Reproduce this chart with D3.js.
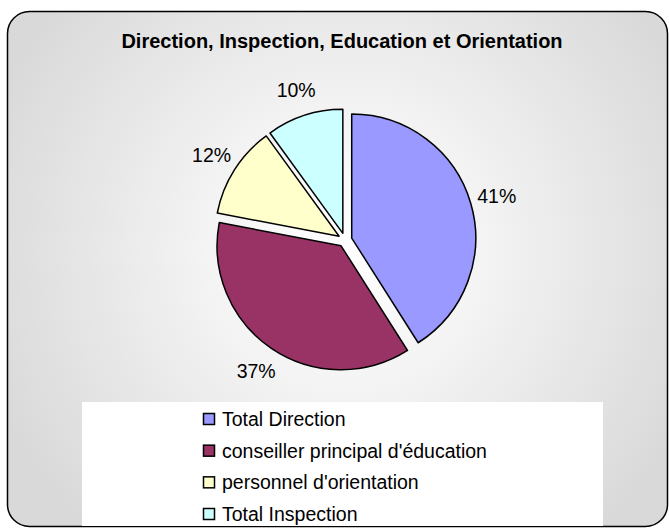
<!DOCTYPE html>
<html>
  <head>
    <meta charset="utf-8">
    <title>Direction, Inspection, Education et Orientation</title>
    <style>
      body { margin: 0; background: #fff; }
      svg { display: block; }
      text { font-family: "Liberation Sans", Arial, sans-serif; fill: #000; }
    </style>
  </head>
  <body>
    <div id="chart"></div>
    <script src="https://cdn.jsdelivr.net/npm/d3@7"></script>
    <script>

        var categories = ["Total Direction", "conseiller principal d'éducation", "personnel d'orientation", "Total Inspection"];
        var values = [41, 37, 12, 10];
        var colors = ["#9999ff", "#993366", "#ffffcc", "#ccffff"];
        var title = "Direction, Inspection, Education et Orientation";

        var width = 669;
        var height = 528;
        var cx = 345, cy = 240;
        var radius = 124;
        var explode = 7;
        var labelRadius = 158;

        var svg = d3.select('#chart')
          .append('svg')
          .attr('width', width)
          .attr('height', height);

        // background gradient, light in the middle
        var grad = svg.append('defs').append('radialGradient')
          .attr('id', 'bg')
          .attr('gradientUnits', 'userSpaceOnUse')
          .attr('cx', cx).attr('cy', 250).attr('r', 380);
        grad.append('stop').attr('offset', '0%').attr('stop-color', '#ffffff');
        grad.append('stop').attr('offset', '35%').attr('stop-color', '#f4f4f4');
        grad.append('stop').attr('offset', '100%').attr('stop-color', '#d9d9d9');

        svg.append('rect')
          .attr('x', 7.5).attr('y', 11.5)
          .attr('width', 660).attr('height', 515)
          .attr('rx', 22).attr('ry', 22)
          .attr('fill', 'url(#bg)')
          .attr('stroke', '#000')
          .attr('stroke-width', 1.5);

        svg.append('text')
          .attr('x', 342).attr('y', 48)
          .attr('text-anchor', 'middle')
          .style('font-size', '20px')
          .style('font-weight', 'bold')
          .text(title);

        var pie = d3.pie()
          .value(function(d) { return d; })
          .sort(null);

        var arc = d3.arc()
          .innerRadius(0)
          .outerRadius(radius);

        var arcs = pie(values);

        function offset(d, r) {
          var a = (d.startAngle + d.endAngle) / 2;
          return [Math.sin(a) * r, -Math.cos(a) * r];
        }

        var g = svg.append('g')
          .attr('transform', 'translate(' + cx + ',' + cy + ')');

        g.selectAll('path')
          .data(arcs)
          .enter()
          .append('path')
          .attr('d', arc)
          .attr('transform', function(d) { return 'translate(' + offset(d, explode) + ')'; })
          .attr('fill', function(d, i) { return colors[i]; })
          .attr('stroke', '#000')
          .attr('stroke-width', 1.5)
          .attr('stroke-linejoin', 'round');

        g.selectAll('text.pct')
          .data(arcs)
          .enter()
          .append('text')
          .attr('class', 'pct')
          .attr('transform', function(d) { return 'translate(' + offset(d, labelRadius) + ')'; })
          .attr('dy', '.35em')
          .attr('text-anchor', 'middle')
          .style('font-size', '19.5px')
          .text(function(d) {
            return Math.round((d.endAngle - d.startAngle) / (2 * Math.PI) * 100) + '%';
          });

        // legend
        svg.append('rect')
          .attr('x', 82).attr('y', 402)
          .attr('width', 521).attr('height', 124)
          .attr('fill', '#fff');

        var ly = d3.scalePoint().domain(categories).range([419, 514]);

        var item = svg.selectAll('g.legend')
          .data(categories)
          .enter()
          .append('g')
          .attr('class', 'legend')
          .attr('transform', function(d) { return 'translate(203,' + ly(d) + ')'; });

        item.append('rect')
          .attr('x', 0.5).attr('y', -5.5)
          .attr('width', 11).attr('height', 11)
          .attr('fill', function(d, i) { return colors[i]; })
          .attr('stroke', '#000')
          .attr('stroke-width', 1.5);

        item.append('text')
          .attr('x', 19).attr('dy', '.36em')
          .style('font-size', '19.5px')
          .text(function(d) { return d; });

    </script>
  </body>
</html>
